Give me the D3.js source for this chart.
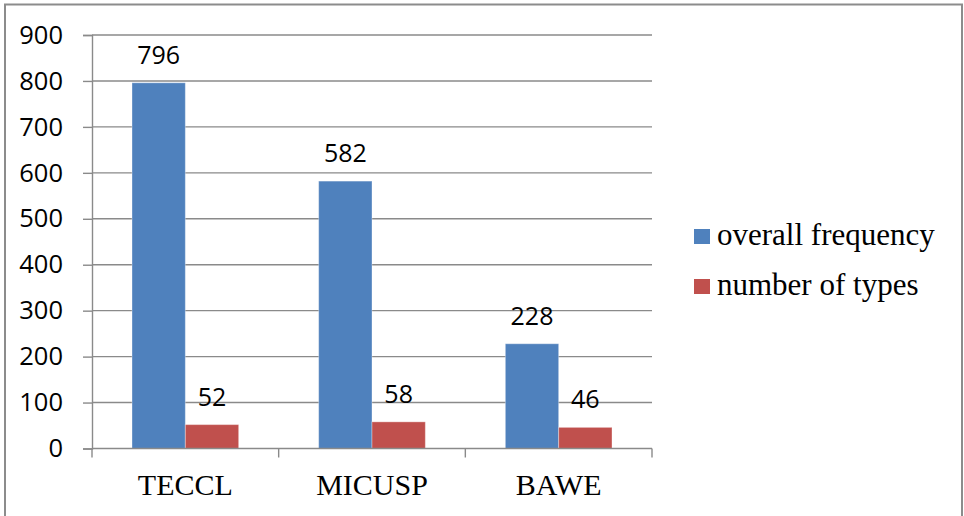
<!DOCTYPE html>
<html>
<head>
<meta charset="utf-8">
<script src="https://cdn.jsdelivr.net/npm/d3@7"></script>
<style>
  body { margin: 0; background: #fff; }
  svg { display: block; }
</style>
</head>
<body>
<div id="chart"></div>
<script>
// chart data
var corpora = ["TECCL", "MICUSP", "BAWE"];
var seriesNames = ["overall frequency", "number of types"];
var overallFrequency = [796, 582, 228];
var numberOfTypes = [52, 58, 46];
var yTicks = [0, 100, 200, 300, 400, 500, 600, 700, 800, 900];

var colors = ["#4F81BD", "#C0504D"];

var svgWidth = 964;
var svgHeight = 516;

var svg = d3.select("#chart")
  .append("svg")
  .attr("width", svgWidth)
  .attr("height", svgHeight);

// outer frame (bottom edge is cut off in the picture)
svg.append("rect")
  .attr("x", 5)
  .attr("y", 4.5)
  .attr("width", 957)
  .attr("height", 600)
  .attr("fill", "none")
  .attr("stroke", "#8c8c8c")
  .attr("stroke-width", 2);

// plot area
var plot = { left: 92, right: 652, top: 35, bottom: 448.5 };

var x = d3.scaleBand()
  .domain(corpora)
  .range([plot.left, plot.right]);

var xSub = d3.scaleBand()
  .domain(seriesNames)
  .range([40, x.bandwidth() - 40]);

var y = d3.scaleLinear()
  .domain([0, 900])
  .range([plot.bottom, plot.top]);

// gridlines
svg.append("g")
  .selectAll("line")
  .data(yTicks.filter(d => d > 0))
  .enter()
  .append("line")
  .attr("x1", plot.left)
  .attr("x2", plot.right)
  .attr("y1", d => y(d))
  .attr("y2", d => y(d))
  .attr("stroke", "#8a8a8a")
  .attr("stroke-width", 1.4);

// y axis
var leftAxis = d3.axisLeft(y).tickValues(yTicks).tickSize(9).tickPadding(20);
var yAxisG = svg.append("g")
  .attr("transform", `translate(${plot.left}, 0)`)
  .call(leftAxis);
yAxisG.select(".domain").attr("stroke", "#8a8a8a").attr("stroke-width", 1.4);
yAxisG.selectAll(".tick line").attr("stroke", "#8a8a8a").attr("stroke-width", 1.4);
yAxisG.selectAll(".tick text")
  .attr("font-family", "'Open Sans', sans-serif")
  .attr("font-size", 25.5)
  .attr("fill", "#000");

// bars
var rows = corpora.map((c, i) => ({ corpus: c, values: [overallFrequency[i], numberOfTypes[i]] }));

var groups = svg.append("g")
  .selectAll("g")
  .data(rows)
  .enter()
  .append("g")
  .attr("transform", d => `translate(${x(d.corpus)}, 0)`);

groups.selectAll("rect")
  .data(d => d.values.map((v, j) => ({ name: seriesNames[j], value: v, idx: j })))
  .enter()
  .append("rect")
  .attr("x", d => xSub(d.name))
  .attr("width", xSub.bandwidth())
  .attr("y", d => y(d.value))
  .attr("height", d => plot.bottom - y(d.value))
  .attr("fill", d => colors[d.idx])
  .attr("stroke", "rgba(255,255,255,0.35)")
  .attr("stroke-width", 1);

// value labels
groups.selectAll("text")
  .data(d => d.values.map((v, j) => ({ name: seriesNames[j], value: v })))
  .enter()
  .append("text")
  .attr("x", d => xSub(d.name) + xSub.bandwidth() / 2)
  .attr("y", d => y(d.value) - 19)
  .attr("text-anchor", "middle")
  .attr("font-family", "'Open Sans', sans-serif")
  .attr("font-size", 25)
  .attr("fill", "#000")
  .text(d => d.value);

// x axis line and category ticks
svg.append("line")
  .attr("x1", plot.left).attr("x2", plot.right)
  .attr("y1", plot.bottom).attr("y2", plot.bottom)
  .attr("stroke", "#8a8a8a")
  .attr("stroke-width", 1.4);

var boundaries = corpora.map(c => x(c)).concat([x.range()[1]]);
svg.append("g")
  .selectAll("line")
  .data(boundaries)
  .enter()
  .append("line")
  .attr("x1", d => d).attr("x2", d => d)
  .attr("y1", plot.bottom).attr("y2", plot.bottom + 9)
  .attr("stroke", "#8a8a8a")
  .attr("stroke-width", 1.4);

svg.append("g")
  .selectAll("text")
  .data(corpora)
  .enter()
  .append("text")
  .attr("x", d => x(d) + x.bandwidth() / 2)
  .attr("y", 495)
  .attr("text-anchor", "middle")
  .attr("font-family", "'Liberation Serif', 'Times New Roman', serif")
  .attr("font-size", 30)
  .attr("fill", "#000")
  .text(d => d);

// legend
var legend = svg.append("g")
  .selectAll("g")
  .data(seriesNames)
  .enter()
  .append("g")
  .attr("transform", (d, i) => `translate(694, ${229 + i * 50})`);

legend.append("rect")
  .attr("width", 16)
  .attr("height", 15)
  .attr("fill", (d, i) => colors[i]);

legend.append("text")
  .attr("x", 23)
  .attr("y", 16)
  .attr("font-family", "'Liberation Serif', 'Times New Roman', serif")
  .attr("font-size", 31)
  .attr("fill", "#000")
  .text(d => d);
</script>
</body>
</html>
